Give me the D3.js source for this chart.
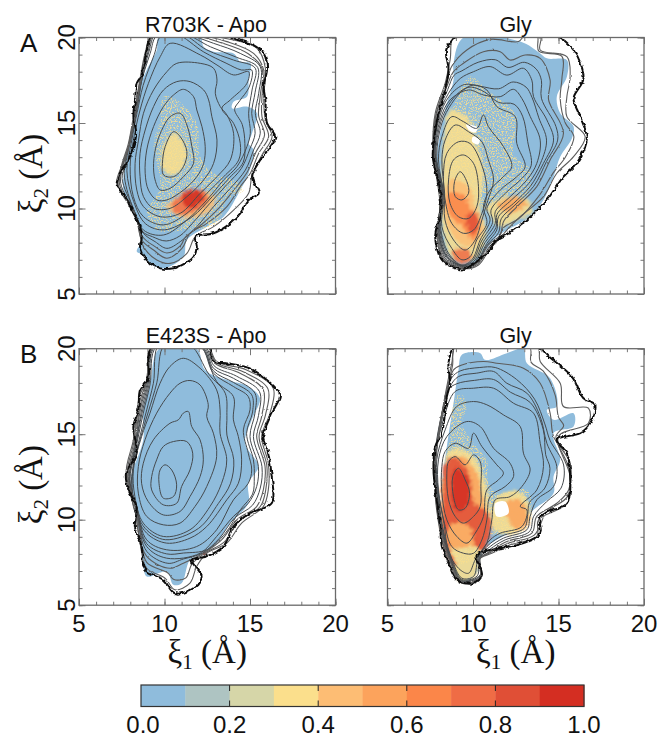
<!DOCTYPE html>
<html>
  <head>
    <meta charset="utf-8">
    <title>xi1 xi2 landscapes</title>
    <script src="https://d3js.org/d3.v7.min.js"></script>
    <style>
      body { margin: 0; background: white; }
      svg { display: block; }
      text { font-family: "Liberation Sans", Arial, sans-serif; fill: #111; }
      .axis-title { font-family: "Liberation Serif", serif; font-size: 33px; }
      .tick-label { font-size: 24px; }
      .panel-title { font-size: 21.5px; text-anchor: middle; }
      .panel-letter { font-size: 26px; }
      .frame { fill: none; stroke: #6a6a6a; stroke-width: 1.3px; }
      .axis path { display: none; }
      .axis line { stroke: #777; stroke-width: 1px; }
      .ring { fill: none; }
    </style>
  </head>
  <body>
    <svg></svg>
    <script>
      // colour bar
      var barColors = ["#8fbcdc", "#aec4c2", "#d6d6a8", "#fbdf8c", "#fdbd74", "#fca35c", "#fb8649", "#ef6c45", "#e04f36", "#d42e22"];
      var barTicks = [0.0, 0.2, 0.4, 0.6, 0.8, 1.0];
      var axisTicks = [5, 10, 15, 20];
      var minorTicks = d3.range(5, 21);

      // R703K - Apo (all in angstrom, rings go inner to outer)
      var r703kCovered = [[9.65,20],[12.09,20],[12.29,19.46],[12.87,19.17],[14.04,19.07],[14.43,18.59],[15.02,18.49],[14.92,17.51],[14.82,16.54],[14.04,16.25],[13.95,15.86],[14.82,15.96],[15.41,15.57],[15.12,14.4],[14.92,13.81],[15.21,13.42],[14.92,12.06],[14.43,11.08],[13.46,9.52],[12.48,8.94],[11.31,8.16],[11.11,7.18],[9.94,6.5],[9.16,6.79],[8.77,7.28],[8.38,7.48],[8.67,8.16],[8.38,9.52],[7.6,11.08],[7.7,12.45],[7.99,13.81],[8.38,15.37],[8.57,17.12],[8.96,18.1],[9.55,19.27]];
      var r703kSparse = [[9.94,16.54],[10.72,16.35],[11.89,14.98],[12.09,13.03],[12.87,12.06],[14.04,11.67],[14.63,11.08],[13.65,10.5],[13.07,9.13],[11.31,8.74],[9.55,8.74],[8.96,9.72],[9.75,11.28],[9.36,13.62],[9.75,15.37]];
      var r703kDense = [
        {value: 0.35, points: [[10.53,14.4],[11.21,13.62],[11.21,12.64],[10.53,11.96],[9.94,12.25],[9.94,13.62]]},
        {value: 0.45, points: [[10.14,10.11],[11.11,10.79],[12.87,10.79],[12.87,10.11],[12.09,9.52],[10.92,9.52]]},
        {value: 0.75, points: [[10.43,10.2],[11.31,10.98],[12.48,10.89],[12.48,10.3],[11.5,9.72],[10.72,9.72]]},
        {value: 0.95, points: [[11.2,10.98],[11.99,11.08],[12.29,10.6],[11.5,10.0],[11.11,10.3]]}
      ];
      var r703kHoles = [];
      var r703kRings = [
        [[10.53,14.49],[10.92,14.2],[11.31,13.32],[11.11,12.45],[10.53,11.86],[9.94,11.96],[9.88,12.64],[10.04,13.62]],
        [[10.92,15.57],[11.31,14.88],[11.6,13.62],[11.7,12.64],[11.11,11.86],[10.33,11.18],[9.75,11.08],[9.45,11.67],[9.36,12.64],[9.55,13.81],[9.94,14.79],[10.33,15.37]],
        [[11.11,16.97],[11.7,16.54],[11.89,15.76],[12.19,14.79],[12.38,13.62],[12.29,12.64],[11.89,11.86],[11.11,11.08],[10.14,10.5],[9.55,10.5],[9.06,11.08],[8.87,12.06],[8.96,13.42],[9.36,14.79],[9.94,15.96],[10.53,16.64]],
        [[11.5,17.42],[12.29,16.93],[12.58,16.35],[12.77,15.37],[13.07,14.0],[12.87,12.64],[12.29,11.67],[11.31,10.69],[10.33,10.01],[9.36,10.01],[8.77,10.69],[8.57,11.86],[8.57,13.23],[8.87,14.59],[9.36,15.96],[9.94,16.93],[10.72,17.42]],
        [[10.72,18.49],[12.09,18.49],[12.87,18.2],[13.07,17.51],[12.97,16.74],[13.26,15.96],[13.65,15.47],[14.04,14.4],[13.85,12.84],[13.07,11.86],[12.09,10.89],[10.92,9.72],[9.75,9.52],[8.77,10.11],[8.38,11.08],[8.28,12.64],[8.48,14.0],[8.77,15.57],[9.36,16.93],[10.14,18.0]],
        [[10.33,19.66],[12.09,18.98],[13.07,18.39],[14.04,17.81],[14.92,18.0],[14.82,17.32],[13.85,16.35],[13.36,15.86],[14.04,14.98],[14.43,13.81],[14.34,12.84],[13.46,11.86],[12.48,10.89],[11.31,9.72],[9.94,9.04],[8.77,9.52],[8.18,10.69],[7.99,12.45],[8.18,14.0],[8.57,15.76],[9.06,17.32],[9.75,18.88]],
        [[10.7,20.2],[12.3,19.15],[13.6,18.5],[14.5,18.1],[15.1,18.1],[14.95,17.1],[14.4,16.3],[14.1,15.8],[14.55,14.9],[14.7,13.8],[14.6,12.7],[13.8,11.8],[12.8,10.7],[11.6,9.5],[10,8.75],[8.9,9.1],[8.2,10.4],[7.8,12.2],[8.05,13.8],[8.4,15.6],[8.75,17.2],[9.4,19],[9.8,20.1]],
        [[11.02,20.2],[12.48,19.27],[14.04,18.68],[15.31,18.2],[15.12,16.93],[14.92,15.57],[15.02,14.4],[14.82,13.62],[14.24,12.45],[13.46,11.67],[12.48,10.5],[11.31,9.33],[9.94,8.45],[8.77,8.74],[8.09,10.2],[7.64,12.06],[7.89,13.62],[8.28,15.57],[8.57,17.12],[9.16,19.07],[9.55,20.1]],
        [[11.15,20.2],[12.7,19.45],[14.2,18.85],[15.45,18.25],[15.3,16.8],[15.1,15.57],[15.3,14.4],[15,13.5],[14.5,12.35],[13.65,11.4],[12.65,10.3],[11.6,9.1],[10.9,8.4],[10.1,8.1],[9.3,8.35],[8.72,8.65],[8.2,9.95],[7.52,11.75],[7.7,12.5],[7.96,13.8],[8.35,15.75],[8.62,17.3],[9.1,19.2],[9.47,20.15]],
        [[11.31,20.15],[12.87,19.66],[14.43,19.07],[15.6,18.29],[15.51,16.74],[15.31,15.57],[15.6,14.4],[15.21,13.42],[14.73,12.25],[13.85,11.18],[12.87,10.11],[11.89,8.94],[10.92,8.06],[10.14,7.67],[9.45,8.06],[8.77,8.55],[8.3,9.72],[7.44,11.47],[7.56,12.45],[8.03,14.0],[8.42,15.96],[8.67,17.51],[9.06,19.27],[9.39,20.15]],
        [[11.6,20.15],[13.3,19.7],[14.9,19.05],[15.7,18.2],[15.6,16.6],[15.5,15.45],[15.85,14.3],[15.35,13.3],[14.85,12.15],[14.15,11.2],[13.25,10.1],[12.15,9.05],[11.2,8.3],[10.95,7.85],[10.14,7.4],[9.4,7.8],[8.72,8.35],[8.3,9.62],[7.37,11.42],[7.53,12.5],[7.96,13.9],[8.35,15.96],[8.62,17.45],[9,19.27],[9.35,20.15]],
        [[11.89,20.15],[13.65,19.76],[15.21,19.07],[15.8,18.1],[15.7,16.54],[15.7,15.37],[16.09,14.2],[15.51,13.23],[15.02,12.06],[14.43,11.28],[13.65,10.11],[12.48,9.13],[11.5,8.55],[11.02,7.67],[10.14,7.09],[9.36,7.57],[8.67,8.16],[8.32,9.52],[7.3,11.37],[7.5,12.55],[7.89,13.81],[8.28,15.96],[8.57,17.42],[8.96,19.27],[9.32,20.15]],
        [[12.09,20.15],[14.04,19.85],[15.41,19.37],[15.9,18.2],[15.8,16.54],[15.9,15.18],[16.29,14.2],[15.7,13.13],[15.12,11.96],[14.92,10.89],[14.04,9.91],[12.87,8.94],[11.8,8.35],[11.31,7.38],[10.33,6.79],[9.55,6.99],[8.77,7.77],[8.38,9.33],[7.7,10.69],[7.21,11.47],[7.44,12.35],[7.83,13.23],[8.24,15.47],[8.54,17.42],[8.91,19.27],[9.26,20.15]],
        [[9.26,20.15],[8.96,19.27],[8.81,18.49],[8.67,17.81],[8.38,17.32],[8.28,16.35],[8.18,15.47],[8.34,14.4],[8.18,13.62],[7.79,12.64],[7.4,12.06],[7.21,11.37],[7.7,10.69],[8.09,9.91],[8.57,8.94],[8.67,8.35],[8.57,7.77],[8.67,7.38],[9.16,6.79],[9.75,6.5],[10.53,6.5],[11.21,6.79],[11.7,7.18],[11.89,7.77],[11.8,8.35],[12.87,8.55],[13.85,9.13],[14.43,9.72],[14.92,10.5],[15.51,10.89],[15.12,11.86],[15.6,12.84],[16.19,13.62],[16.48,14.2],[16.0,14.98],[15.9,16.35],[15.8,17.12],[16.0,18.2],[15.8,19.07],[15.2,19.56],[14.04,19.95],[13.65,20.15]]
      ];

      // R703K - Gly
      var r703kGlyCovered = [[9.44,20],[12.76,19.76],[13.93,19.07],[14.32,18.78],[15.49,18.68],[15.49,17.71],[14.9,16.54],[15.1,15.57],[15.88,14.79],[15.78,14.1],[15.1,13.03],[14.71,11.86],[14.12,10.5],[13.34,9.52],[11.98,8.74],[11.39,8.35],[10.61,7.38],[10.03,6.79],[9.44,6.7],[8.66,7.18],[8.18,8.16],[8.08,9.52],[8.08,10.69],[7.88,12.84],[8.08,14.4],[8.37,15.76],[8.86,17.51],[8.86,18.49]];
      var r703kGlySparse = [[9.83,17.71],[10.81,16.93],[12.56,15.37],[12.37,13.23],[13.34,12.25],[13.15,10.69],[12.37,10.89],[10.81,9.91],[10.03,10.5],[8.66,11.28],[8.47,14.4],[8.86,15.96]];
      var r703kGlyDense = [
        {value: 0.35, points: [[8.66,15.76],[9.64,15.37],[10.22,13.81],[10.61,12.06],[10.42,10.11],[10.81,8.55],[10.03,7.0],[8.86,7.0],[8.27,8.55],[8.18,12.45],[8.27,14.0]]},
        {value: 0.45, points: [[8.66,11.67],[9.74,11.28],[10.22,9.91],[10.61,8.74],[9.83,7.77],[8.86,8.35],[8.27,10.11]]},
        {value: 0.65, points: [[8.57,10.89],[9.44,10.79],[9.93,9.81],[10.42,9.33],[10.03,8.16],[9.35,8.94],[8.57,9.72]]},
        {value: 0.85, points: [[9.74,9.72],[10.22,9.72],[10.26,8.74],[9.93,8.55],[9.64,9.13]]},
        {value: 0.75, points: [[8.86,7.57],[9.74,7.57],[9.87,7.0],[9.44,6.75],[8.96,7.0]]},
        {value: 0.35, points: [[10.81,10.11],[11.98,10.69],[13.25,10.5],[13.44,9.72],[12.56,9.33],[11.59,8.94],[11,9.52]]},
        {value: 0.55, points: [[11.39,10.2],[12.47,10.69],[13.15,10.3],[12.17,9.72]]}
      ];
      var r703kGlyHoles = [
        [[9.6,14.9],[10.25,14.75],[10.15,14.45],[9.8,14.55]],
        [[10.0,14.2],[10.4,14.0],[10.3,13.75],[9.95,13.9]]
      ];
      var r703kGlyRings = [
        [[9.25,12.15],[9.64,11.57],[9.74,10.89],[9.35,10.5],[8.96,10.7],[8.92,11.57]],
        [[9.44,13.13],[10.03,12.64],[10.32,11.28],[10.22,10.1],[9.74,9.42],[9.15,9.52],[8.66,10.3],[8.57,11.67],[8.86,12.84]],
        [[9.15,13.9],[9.83,13.8],[10.61,12.25],[10.81,10.89],[10.52,9.72],[10.03,8.74],[9.44,8.55],[8.76,9.13],[8.37,10.5],[8.27,11.86],[8.47,13.23]],
        [[8.96,14.88],[9.74,14.49],[10.52,13.9],[10.9,12.84],[11.2,11.67],[10.81,10.3],[10.52,9.33],[10.13,8.16],[9.54,7.57],[8.86,8.16],[8.36,9.33],[8.34,10.89],[8.18,12.84],[8.37,14.0]],
        [[8.76,15.37],[9.44,15.08],[10.22,14.69],[10.61,15.47],[10.9,14.79],[11.78,13.62],[12.27,12.45],[11.78,11.86],[11.0,11.08],[10.61,10.11],[10.81,9.13],[10.22,8.16],[9.83,7.18],[9.35,7.0],[8.76,7.67],[8.18,8.94],[8.3,10.69],[7.98,12.84],[8.18,14.2]],
        [[10.03,17.22],[10.81,16.93],[11.39,15.96],[12.47,15.37],[12.56,13.81],[13.05,12.45],[12.56,11.86],[11.59,11.08],[10.81,10.0],[11,9.33],[10.42,8.16],[9.93,7.0],[9.35,6.7],[8.57,7.38],[8.1,8.94],[8.26,10.89],[7.88,13.03],[8.18,15.0],[8.76,16.15],[9.44,16.93]],
        [[9.9,17.1],[10.7,16.8],[11.5,16.2],[12.4,16.1],[12.9,15.4],[13.2,13.9],[13.4,12.5],[12.85,11.75],[11.9,10.9],[11.05,9.9],[11.15,9.2],[10.5,8.1],[9.98,6.95],[9.35,6.68],[8.52,7.33],[8.06,8.9],[8.23,10.9],[7.83,13.1],[8.13,15.1],[8.7,16.25],[9.4,16.95]],
        [[9.74,16.93],[10.61,16.64],[11.59,16.54],[12.37,16.97],[12.86,16.43],[13.35,15.37],[13.93,14.0],[13.73,12.64],[13.15,11.67],[12.17,10.69],[11.3,9.81],[11.3,9.13],[10.61,8.06],[10.03,6.89],[9.35,6.66],[8.47,7.28],[8.03,8.84],[8.2,10.89],[7.79,13.23],[8.08,15.18],[8.66,16.35]],
        [[9.5,17.25],[10.4,17.15],[11.5,17.0],[12.35,17.4],[13.1,17.1],[13.45,16.5],[13.85,15.3],[14.3,14],[13.95,12.65],[13.25,11.45],[12.25,10.5],[11.4,9.65],[11.35,8.9],[10.7,8.0],[10.08,6.84],[9.4,6.63],[8.42,7.24],[8,8.8],[8.17,10.8],[7.76,13.3],[8.03,15.3],[8.6,16.55]],
        [[9.25,17.6],[10.03,18.0],[11,18.3],[11.98,17.8],[12.95,18.2],[13.44,17.51],[13.54,16.54],[14.32,15.18],[14.71,14.0],[14.12,12.64],[13.34,11.28],[12.37,10.3],[11.49,9.52],[11.39,8.74],[10.81,7.96],[10.13,6.79],[9.44,6.6],[8.47,7.2],[7.97,8.74],[8.15,10.69],[7.75,13.42],[7.98,15.37],[8.57,16.74]],
        [[9.35,18.05],[10.3,18.55],[11.3,18.7],[12.05,18.25],[13,18.55],[13.7,18.15],[14,17.5],[14,16.45],[14.85,14.8],[14.95,14.0],[14.3,12.75],[13.55,11.3],[12.45,10.2],[11.65,9.4],[11.5,8.6],[10.85,7.9],[10.18,6.79],[9.44,6.57],[8.42,7.15],[7.95,8.74],[8.13,10.6],[7.72,13.42],[7.93,15.47],[8.52,16.95],[8.9,17.8]],
        [[9.44,18.49],[10.61,19.17],[11.59,19.17],[12.17,18.68],[13.05,18.98],[13.93,18.78],[14.51,17.51],[14.42,16.35],[15.29,14.4],[14.51,12.84],[13.73,11.28],[12.56,10.1],[11.78,9.23],[11.59,8.45],[10.9,7.87],[10.22,6.79],[9.44,6.54],[8.37,7.09],[7.93,8.74],[8.11,10.5],[7.7,13.42],[7.88,15.57],[8.47,17.13],[8.86,18.0]],
        [[9.64,19.27],[11,19.89],[12.66,19.76],[13.05,20.15],[13.75,20.15],[13.85,19.2],[15.2,18.9],[15.2,17.6],[15.1,16.4],[15.4,15],[15.9,14.2],[15.4,13],[14.7,12.1],[13.9,10.8],[12.66,9.4],[11.8,8.9],[11.5,8.3],[10.95,7.75],[10.27,6.75],[9.44,6.5],[8.3,7.05],[7.91,8.6],[8.09,10.3],[7.68,13.4],[7.83,15.5],[8.42,17.2],[8.75,18.3]],
        [[13.93,20.15],[13.93,19.27],[15.49,18.88],[15.68,17.71],[15.49,16.54],[15.49,15.37],[16.56,14.2],[15.88,13.03],[14.9,12.06],[14.12,10.69],[12.76,9.52],[11.98,8.74],[11.59,8.26],[11,7.67],[10.32,6.7],[9.44,6.48],[8.27,6.99],[7.88,8.55],[8.08,10.11],[7.66,13.42],[7.79,15.57],[8.37,17.32],[8.66,18.68],[8.96,20.15]],
        [[9.25,20.15],[14.71,20.15],[15.88,19.27],[16.46,17.61],[15.88,16.44],[16.27,15.37],[16.66,14.1],[16.07,12.64],[15.29,11.86],[14.32,10.5],[13.15,9.33],[12.08,8.55],[11.39,8.16],[10.81,7.38],[9.93,6.7],[9.44,6.44],[8.27,6.89],[7.79,8.35],[8.08,9.72],[8.08,11.08],[7.65,13.03],[7.92,15.27],[8.27,16.54],[8.57,18.1],[8.43,19.27],[8.96,20]]
      ];

      // E423S - Apo
      var e423sCovered = [[9.7,20],[11.88,20],[12.37,18.76],[13.64,18.18],[14.9,17.79],[15.58,17.1],[15.1,15.84],[14.71,14.47],[15.49,13.11],[14.9,12.13],[14.9,10.96],[13.83,9.8],[13.05,8.63],[12.27,8.04],[11.49,7.65],[11,6.29],[10.52,6.19],[10.13,6.97],[8.96,6.68],[8.76,7.65],[8.57,8.82],[8.27,10.77],[8.02,12.33],[8.76,14.67],[8.76,16.42],[9.15,17.88]];
      var e423sSparse = [];
      var e423sDense = [
        {value: 0.95, points: [[12.25,8.1],[12.4,8.1],[12.4,7.95],[12.25,7.95]]}
      ];
      var e423sHoles = [];
      var e423sRings = [
        [[10.03,13.21],[10.42,12.91],[10.71,12.04],[10.52,11.35],[9.93,11.26],[9.68,12.13],[9.74,12.91]],
        [[10.52,14.57],[11.3,14.57],[11.65,13.89],[11.49,12.91],[11,11.94],[10.71,10.96],[9.93,10.87],[9.25,11.74],[9.25,12.52],[9.54,13.5],[9.93,14.28]],
        [[11.1,16.23],[11.39,16.33],[11.59,15.45],[12.08,14.67],[12.27,13.5],[12.08,12.52],[11.49,11.35],[10.91,10.48],[9.93,10.28],[9.05,11.06],[8.66,12.13],[8.76,13.3],[9.35,14.67],[10.32,15.64],[10.81,15.84]],
        [[11.49,18.14],[12.08,17.88],[12.56,16.72],[12.47,16.03],[12.86,15.06],[13.05,13.69],[12.47,11.94],[11.78,10.77],[10.91,9.8],[9.93,9.7],[8.96,10.19],[8.47,11.55],[8.47,13.11],[8.86,14.67],[9.54,16.23],[10.32,17.4],[10.91,17.98]],
        [[11.1,19.44],[12.08,18.86],[13.05,17.59],[13.25,16.42],[13.25,15.06],[13.64,13.5],[13.34,12.13],[12.66,10.77],[11.49,9.41],[9.93,9.02],[8.76,9.8],[8.27,11.35],[8.18,12.91],[8.66,14.86],[9.15,16.23],[9.74,17.98],[10.32,18.96]],
        [[11.5,20.2],[12.6,18.5],[13.55,17.4],[13.65,16.1],[13.65,14.95],[14.05,13.5],[13.85,12.1],[13.15,10.95],[12,9.5],[10.05,8.83],[8.86,9.5],[8.22,11.05],[8.13,12.7],[8.56,14.65],[9.05,16.3],[9.55,18],[10,20.2]],
        [[12,20.3],[13.05,18.08],[14.03,17.2],[14.03,15.84],[14.32,14.86],[14.51,13.5],[14.32,12.13],[13.64,11.16],[12.47,9.6],[11.49,8.92],[10.13,8.63],[8.96,9.21],[8.18,10.77],[8.08,12.52],[8.47,14.47],[8.96,16.42],[9.35,17.98],[9.72,20.3]],
        [[12.08,20.13],[12.86,18.57],[14.03,17.79],[14.9,17.2],[15,16.42],[14.61,15.25],[14.9,13.89],[15.1,12.91],[14.9,12.13],[14.03,11.16],[13.05,9.41],[11.88,8.43],[10.13,8.24],[8.96,8.82],[8.42,10.58],[7.98,12.33],[8.27,13.89],[8.76,16.23],[9.15,17.88],[9.54,20.13]],
        [[12.18,20.13],[12.86,18.7],[14.03,18.03],[15.1,17.3],[15.15,16.3],[14.8,15.05],[15.2,13.5],[15.25,12.5],[15.15,11.5],[14.45,10.6],[13.55,9.2],[12.5,8.25],[11.1,8.05],[10.13,8.0],[8.96,8.6],[8.42,10.45],[7.96,12.4],[8.25,14],[8.7,16.3],[9.1,17.93],[9.45,20.13]],
        [[12.27,20.13],[12.86,18.86],[14.03,18.27],[15.29,17.4],[15.29,16.23],[15,14.86],[15.49,13.11],[15.39,11.94],[14.9,10.96],[14.03,10.19],[13.05,9.02],[12.08,8.04],[10.13,7.75],[8.96,8.43],[8.4,10.38],[7.93,12.52],[8.27,14.08],[8.66,16.42],[9.05,17.98],[9.39,20.13]],
        [[12.35,20.13],[12.9,19],[14.2,18.4],[15.55,17.5],[15.5,16.1],[15.2,14.86],[15.7,13.1],[15.6,11.85],[15.15,10.85],[14.1,10.1],[13.2,8.9],[12.2,8.04],[11.1,7.7],[10.2,7.45],[8.96,8.15],[8.45,10],[8.37,10.7],[7.88,12.52],[8.25,14.2],[8.6,16.5],[9,18],[9.35,20.13]],
        [[12.43,20.13],[12.95,19.15],[14.42,18.57],[15.78,17.59],[15.68,16.03],[15.39,14.86],[15.88,13.11],[15.78,11.74],[15.39,10.77],[14.22,9.99],[13.34,8.82],[12.27,8.04],[11.1,7.46],[10.32,7.16],[8.96,7.85],[8.42,9.6],[8.35,10.77],[7.85,12.52],[8.22,14.28],[8.57,16.62],[8.96,18.08],[9.31,20.13]],
        [[12.46,20.13],[13,19.2],[14.6,18.65],[16.05,17.65],[15.9,16.1],[15.53,14.86],[15.98,13.2],[15.92,11.74],[15.6,10.77],[14.35,9.9],[13.5,8.7],[12.36,8.04],[11.6,7.4],[11.25,6.6],[10.55,6.5],[10.18,6.9],[8.96,7.5],[8.6,9.1],[8.33,10.6],[7.8,12.6],[8.2,14.5],[8.55,16.9],[8.96,18.13],[9.29,20.13]],
        [[12.5,20.13],[13.05,19.25],[14.8,18.76],[16.36,17.69],[16.17,16.23],[15.68,14.86],[16.07,13.3],[16.07,11.74],[15.78,10.77],[14.51,9.8],[13.64,8.63],[12.47,8.04],[11.88,7.26],[11.49,6.29],[10.61,5.9],[10.03,6.58],[8.96,7.16],[8.57,8.63],[8.3,10.38],[7.75,12.72],[8.18,14.67],[8.53,17.2],[8.96,18.18],[9.27,20.13]],
        [[9.25,20.13],[9.05,18.27],[8.57,17.59],[8.47,16.42],[8.18,15.45],[8.37,13.89],[7.75,12.72],[7.89,11.74],[8.37,10.77],[8.27,9.6],[8.66,8.43],[8.86,7.07],[9.93,6.48],[10.61,5.7],[11.69,5.99],[12.17,6.68],[11.59,7.65],[12.47,7.85],[13.44,8.43],[14.03,9.6],[15,10.38],[16.27,10.96],[16.27,12.52],[16.07,13.89],[15.78,14.86],[16.27,16.23],[16.75,17.3],[15.97,18.18],[14.96,18.86],[13.64,19.15],[12.86,19.25],[12.56,20.13]]
      ];

      // E423S - Gly
      var e423sGlyCovered = [[9.35,19.64],[10.42,19.74],[10.71,19.35],[11.98,19.74],[12.95,20],[13.15,19.15],[14.51,18.27],[14.9,16.62],[14.32,16.42],[14.71,15.84],[15.88,16.23],[15.88,15.45],[14.71,15.06],[15.1,13.5],[14.71,12.52],[14.71,11.55],[13.54,10.58],[12.37,9.41],[10.61,8.24],[10.22,6.87],[9.44,6.38],[8.76,7.26],[8.27,8.82],[8.18,11.94],[8.47,14.28],[8.86,16.81],[9.15,18.76]];
      var e423sGlySparse = [[9.25,17.4],[9.64,16.62],[9.35,15.64],[10.03,14.47],[10.81,13.5],[10.9,12.13],[11.39,11.55],[13.15,11.74],[13.44,10.58],[13.25,9.6],[12.56,9.21],[10.81,9.02],[10.52,8.24],[10.03,7.65],[8.86,7.46],[8.47,8.43],[8.27,12.72],[8.66,14.86],[8.86,16.81]];
      var e423sGlyDense = [
        {value: 0.35, points: [[8.66,14.08],[9.83,13.89],[10.61,12.52],[11,9.99],[10.42,8.04],[10.13,6.68],[9.25,6.38],[8.76,7.26],[8.47,9.02],[8.27,11.94]]},
        {value: 0.38, points: [[11.39,11.35],[12.86,11.55],[13.34,9.99],[12.56,9.21],[11.2,9.41]]},
        {value: 0.55, points: [[11.98,11.06],[12.76,11.16],[13.25,9.8],[12.56,9.41],[11.98,10.19]]},
        {value: 0.55, points: [[8.47,13.3],[9.44,13.69],[10.22,12.72],[10.61,11.16],[10.9,9.99],[10.52,8.24],[10.03,8.43],[8.47,8.43]]},
        {value: 0.85, points: [[8.37,13.3],[8.96,13.69],[9.83,12.52],[9.99,11.16],[10.9,10.38],[11.1,9.8],[10.61,8.24],[10.13,8.43],[9.83,9.6],[8.96,9.8],[8.47,9.41],[8.66,8.24],[9.05,7.26],[8.47,7.85],[8.27,9.21],[8.27,11.94]]},
        {value: 0.95, points: [[8.96,13.01],[9.64,12.52],[9.83,11.35],[9.44,10.58],[8.96,10.58],[8.76,11.94]]}
      ];
      var e423sGlyHoles = [
        [[11.3,10.96],[11.88,11.06],[12.08,10.38],[11.39,10.19]]
      ];
      var e423sGlyRings = [
        [[9.15,13.01],[9.54,12.33],[9.8,11.55],[9.54,10.67],[9.15,10.58],[8.86,11.35],[8.82,12.52]],
        [[8.96,13.69],[9.54,13.21],[10.03,13.79],[10.42,13.4],[10.46,11.94],[10.42,10.77],[10.03,10.19],[9.44,9.8],[8.96,10.19],[8.57,11.16],[8.47,12.72],[8.57,13.4]],
        [[8.96,14.47],[9.74,14.18],[10.03,15.06],[10.52,14.28],[11.39,13.21],[11.78,12.72],[11.49,12.33],[10.81,11.74],[10.61,10.19],[10.13,9.21],[9.64,8.63],[9.05,9.02],[8.47,9.99],[8.18,11.55],[8.18,13.11],[8.37,13.99]],
        [[9.64,15.74],[10.42,15.45],[11.2,14.18],[12.17,13.3],[12.37,12.52],[11.88,11.94],[11,11.35],[10.81,9.99],[10.52,8.82],[10.03,8.04],[9.44,8.04],[8.76,8.43],[8.33,9.8],[7.98,11.74],[7.98,13.5],[8.47,14.86]],
        [[9.05,16.62],[10.03,16.91],[10.81,16.72],[11.78,16.13],[12.76,15.45],[12.95,13.89],[13.34,12.91],[12.86,11.94],[12.17,11.35],[11.3,11.16],[11.1,9.99],[10.81,8.63],[10.13,7.65],[9.74,6.87],[9.25,7.07],[8.6,8.04],[8.3,9.8],[7.96,11.74],[7.88,13.5],[8.37,15.25]],
        [[8.96,17.5],[10.03,17.69],[11.2,17.69],[12.37,16.81],[13.54,16.23],[13.93,14.47],[14.12,13.11],[13.73,11.74],[12.76,10.77],[13.15,10.58],[12.86,9.6],[11.59,9.21],[11,8.82],[10.32,7.85],[10.03,6.68],[9.35,6.58],[8.75,7.75],[8.22,9.6],[7.95,11.74],[7.79,13.5],[8.27,15.84]],
        [[9.05,17.95],[10.1,18.15],[11.2,18.2],[12.2,17.45],[13.35,16.85],[14.1,15.3],[14.25,13.8],[14.5,13],[14.2,11.85],[13.3,11],[13.2,10.3],[13,9.5],[11.7,9.05],[11,8.6],[10.37,7.85],[10.25,6.72],[9.35,6.5],[8.72,7.7],[8.18,9.6],[7.9,11.85],[7.77,13.5],[8.22,16],[8.55,17.6]],
        [[9.15,18.37],[10.22,18.57],[11.2,18.67],[11.98,17.98],[13.15,17.4],[13.93,16.03],[14.32,14.47],[14.9,13.11],[14.71,11.94],[13.73,11.16],[13.34,10.19],[13.15,9.41],[11.78,8.92],[11,8.43],[10.42,7.85],[10.42,6.77],[9.35,6.44],[8.7,7.65],[8.16,9.6],[7.86,11.94],[7.75,13.5],[8.18,16.23],[8.66,17.79]],
        [[9.25,18.7],[10.4,18.9],[11.3,18.9],[12.55,18.2],[13.6,17.05],[14.2,15.6],[14.5,14.65],[15.3,13.2],[15.15,11.85],[14.3,11.05],[13.55,10.2],[13.3,9.3],[11.88,8.82],[11,8.28],[10.42,7.8],[10.42,6.72],[9.35,6.4],[8.68,7.6],[8.14,9.5],[7.82,12.15],[7.85,14.2],[8.32,16.8],[8.76,18.3]],
        [[9.35,19.05],[10.61,19.25],[11.39,19.15],[12.95,18.86],[13.93,17.98],[14.51,16.23],[14.71,14.86],[15.68,13.3],[15.59,11.74],[14.9,10.96],[13.73,10.19],[13.44,9.21],[11.98,8.72],[11,8.14],[10.42,7.75],[10.42,6.68],[9.35,6.35],[8.66,7.55],[8.12,9.41],[7.78,12.33],[7.98,14.86],[8.47,17.4],[8.86,18.76]],
        [[13.3,20.13],[13.4,19.2],[14.1,18.7],[14.8,17.3],[15,16.0],[15.3,15.5],[14.85,14.85],[15.65,12.9],[15.52,11.35],[14.3,10.45],[13.58,9.1],[12.05,8.62],[11.05,8.1],[10.37,7.7],[10.44,6.63],[9.35,6.32],[8.62,7.45],[8.1,9.3],[7.76,12.4],[7.97,14.9],[8.45,17.5],[8.8,19],[8.98,20.13]],
        [[13.77,20.13],[13.93,19.25],[15.1,17.98],[15.29,16.62],[16.75,16.52],[16.75,15.64],[15,14.86],[15.68,12.52],[15.49,10.96],[13.83,9.99],[13.73,9.02],[12.17,8.53],[11.1,8.04],[10.32,7.65],[10.46,6.58],[9.35,6.29],[8.58,7.4],[8.09,9.21],[7.74,12.52],[7.98,14.96],[8.43,17.59],[8.76,19.15],[9.02,20.13]],
        [[8.96,20.13],[8.57,19.15],[8.66,17.98],[8.47,17.2],[8.18,15.06],[7.79,14.28],[7.69,12.91],[7.88,11.16],[8.08,9.6],[8.18,8.43],[8.57,7.46],[9.05,6.48],[10.03,6.29],[10.52,6.77],[10.22,7.94],[11.59,8.33],[12.95,8.63],[13.93,9.21],[13.93,10.19],[15.49,10.96],[15.68,12.52],[15.49,13.89],[14.9,14.67],[16.27,15.06],[16.85,15.64],[17.14,16.72],[16.46,17.1],[15.78,18.37],[14.32,19.64],[13.83,20.13]]
      ];

      var panels = [
        {id: "p1", title: "R703K - Apo", letter: "A", left: 79, top: 37.5, covered: r703kCovered, sparse: r703kSparse, dense: r703kDense, holes: r703kHoles, rings: r703kRings},
        {id: "p2", title: "Gly", left: 387.5, top: 37.5, covered: r703kGlyCovered, sparse: r703kGlySparse, dense: r703kGlyDense, holes: r703kGlyHoles, rings: r703kGlyRings},
        {id: "p3", title: "E423S - Apo", letter: "B", left: 79, top: 348.7, covered: e423sCovered, sparse: e423sSparse, dense: e423sDense, holes: e423sHoles, rings: e423sRings},
        {id: "p4", title: "Gly", left: 387.5, top: 348.7, covered: e423sGlyCovered, sparse: e423sGlySparse, dense: e423sGlyDense, holes: e423sGlyHoles, rings: e423sGlyRings}
      ];

      var svgWidth = 665,
          svgHeight = 738,
          panelSize = 256.5,
          barLeft = 141,
          barRight = 584,
          barTop = 685,
          barBottom = 706.5;

      var svg = d3.select("svg").attr("width", svgWidth).attr("height", svgHeight);
      var defs = svg.append("defs");

      // soft look of the printed figure
      defs.append("filter").attr("id", "soft").append("feGaussianBlur").attr("stdDeviation", 0.7);
      defs.append("filter").attr("id", "softLine").append("feGaussianBlur").attr("stdDeviation", 0.25);

      // grainy edge between density bins
      var grain = defs.append("filter").attr("id", "grain")
        .attr("x", "-10%").attr("y", "-10%").attr("width", "120%").attr("height", "120%");
      grain.append("feTurbulence").attr("type", "fractalNoise")
        .attr("baseFrequency", 0.45).attr("numOctaves", 2).attr("seed", 11).attr("result", "n");
      grain.append("feDisplacementMap").attr("in", "SourceGraphic").attr("in2", "n")
        .attr("scale", 9).attr("xChannelSelector", "R").attr("yChannelSelector", "G").attr("result", "d");
      grain.append("feGaussianBlur").attr("in", "d").attr("stdDeviation", 0.8);

      // stipple for sparsely populated bins
      var stipple = defs.append("filter").attr("id", "stipple")
        .attr("color-interpolation-filters", "sRGB");
      stipple.append("feTurbulence").attr("type", "fractalNoise")
        .attr("baseFrequency", 0.8).attr("numOctaves", 2).attr("seed", 7).attr("result", "noise");
      stipple.append("feColorMatrix").attr("in", "noise").attr("type", "matrix")
        .attr("values", "0 0 0 0 0  0 0 0 0 0  0 0 0 0 0  7 0 0 0 -3.4").attr("result", "dots");
      stipple.append("feComposite").attr("in", "SourceGraphic").attr("in2", "dots").attr("operator", "in").attr("result", "cut");
      stipple.append("feGaussianBlur").attr("in", "cut").attr("stdDeviation", 0.5);

      // rough edge of the low count contours
      [["rough1", 2], ["rough2", 4]].forEach(function(r) {
        var f = defs.append("filter").attr("id", r[0])
          .attr("x", "-10%").attr("y", "-10%").attr("width", "120%").attr("height", "120%");
        f.append("feTurbulence").attr("type", "fractalNoise")
          .attr("baseFrequency", 0.22).attr("numOctaves", 2).attr("seed", 3).attr("result", "n");
        f.append("feDisplacementMap").attr("in", "SourceGraphic").attr("in2", "n")
          .attr("scale", r[1]).attr("xChannelSelector", "R").attr("yChannelSelector", "G").attr("result", "d");
        f.append("feGaussianBlur").attr("in", "d").attr("stdDeviation", 0.2);
      });

      var color = d3.scaleQuantize().domain([0, 1]).range(barColors);

      panels.forEach(function(p, i) {
        var x = d3.scaleLinear().domain([5, 20]).range([0, panelSize]);
        var y = d3.scaleLinear().domain([5, 20]).range([panelSize, 0]);
        var g = svg.append("g").attr("transform", "translate(" + [p.left, p.top] + ")");

        defs.append("clipPath").attr("id", "clip-" + p.id)
          .append("rect").attr("width", panelSize).attr("height", panelSize);

        var ring = d3.line().x(function(d) { return x(d[0]); }).y(function(d) { return y(d[1]); })
          .curve(d3.curveCatmullRomClosed.alpha(0.5));

        var body = g.append("g").attr("clip-path", "url(#clip-" + p.id + ")");
        var fills = body.append("g").attr("filter", "url(#soft)");

        fills.append("path").attr("d", ring(p.covered)).attr("fill", color(0.05));
        if (p.sparse.length) {
          body.append("path").attr("d", ring(p.sparse)).attr("fill", color(0.35))
            .attr("fill-opacity", 0.8).attr("filter", "url(#stipple)");
        }
        var denseG = body.append("g").attr("filter", p.dense.length > 1 ? "url(#grain)" : "url(#soft)");
        denseG.selectAll("path").data(p.dense).enter().append("path")
          .attr("d", function(d) { return ring(d.points); })
          .attr("fill", function(d) { return color(d.value); })
          .attr("fill-opacity", 0.85);
        var holeG = body.append("g").attr("filter", "url(#soft)");
        p.holes.forEach(function(h) {
          holeG.append("path").attr("d", ring(h)).attr("fill", "white");
        });

        var n = p.rings.length;
        var inner = body.append("g").attr("filter", "url(#softLine)");
        p.rings.forEach(function(r, k) {
          var fromOuter = n - 1 - k;
          var target = fromOuter > 3 ? inner
            : body.append("g").attr("filter", fromOuter == 0 ? "url(#rough2)" : "url(#rough1)");
          target.append("path").attr("class", "ring").attr("d", ring(r))
            .attr("stroke", fromOuter == 0 ? "#111" : fromOuter < 4 ? "#5c5c5c" : "#454a4e")
            .attr("stroke-width", fromOuter == 0 ? 2 : fromOuter < 4 ? 1.1 : 1);
        });

        // ticks on all four sides
        [[d3.axisBottom(x), [0, panelSize], -1], [d3.axisTop(x), [0, 0], -1],
         [d3.axisLeft(y), [0, 0], -1], [d3.axisRight(y), [panelSize, 0], -1]].forEach(function(a) {
          [[minorTicks, 3.5], [axisTicks, 6.5]].forEach(function(t) {
            g.append("g").attr("class", "axis")
              .attr("transform", "translate(" + a[1] + ")")
              .call(a[0].tickValues(t[0]).tickSize(a[2] * t[1]).tickFormat(""));
          });
        });
        g.append("rect").attr("class", "frame").attr("width", panelSize).attr("height", panelSize);

        // left column carries y labels, bottom row carries x labels
        if (i % 2 == 0) {
          axisTicks.forEach(function(t) {
            g.append("text").attr("class", "tick-label")
              .attr("transform", "translate(" + [-4.5, y(t)] + ") rotate(-90)")
              .attr("text-anchor", "middle").text(t);
          });
          var yl = g.append("text").attr("class", "axis-title")
            .attr("transform", "translate(" + [-37, 136] + ") rotate(-90)")
            .attr("text-anchor", "middle");
          yl.append("tspan").text("ξ");
          yl.append("tspan").attr("dy", 6).attr("font-size", 21).text("2");
          yl.append("tspan").attr("dy", -6).text(" (Å)");
        }
        if (i >= 2) {
          axisTicks.forEach(function(t) {
            g.append("text").attr("class", "tick-label")
              .attr("x", x(t)).attr("y", panelSize + 27)
              .attr("text-anchor", "middle").text(t);
          });
          var xl = g.append("text").attr("class", "axis-title")
            .attr("x", panelSize / 2).attr("y", panelSize + 58)
            .attr("text-anchor", "middle");
          xl.append("tspan").text("ξ");
          xl.append("tspan").attr("dy", 6).attr("font-size", 21).text("1");
          xl.append("tspan").attr("dy", -6).text(" (Å)");
        }

        g.append("text").attr("class", "panel-title")
          .attr("x", p.letter ? 127 : 128).attr("y", -5.5).text(p.title);
        if (p.letter) {
          g.append("text").attr("class", "panel-letter")
            .attr("x", -59).attr("y", 14.5).text(p.letter);
        }
      });

      // colour bar
      var barScale = d3.scaleLinear().domain([0, 1]).range([barLeft, barRight]);
      var bins = d3.range(barColors.length);
      var barG = svg.append("g");
      barG.selectAll("rect.bin").data(bins).enter().append("rect")
        .attr("class", "bin")
        .attr("x", function(d) { return barScale(d / bins.length); })
        .attr("width", (barRight - barLeft) / bins.length + 0.4)
        .attr("y", barTop).attr("height", barBottom - barTop)
        .attr("fill", function(d) { return barColors[d]; });
      barTicks.slice(1, -1).forEach(function(t) {
        barG.append("line").attr("x1", barScale(t)).attr("x2", barScale(t))
          .attr("y1", barTop).attr("y2", barTop + 6).attr("stroke", "#222");
        barG.append("line").attr("x1", barScale(t)).attr("x2", barScale(t))
          .attr("y1", barBottom - 6).attr("y2", barBottom).attr("stroke", "#222");
      });
      barG.append("rect").attr("x", barLeft).attr("y", barTop)
        .attr("width", barRight - barLeft).attr("height", barBottom - barTop)
        .attr("fill", "none").attr("stroke", "#333").attr("stroke-width", 1.2);
      barTicks.forEach(function(t) {
        barG.append("text").attr("class", "tick-label")
          .attr("x", barScale(t) + (t == 0 ? 2 : 0)).attr("y", 732.5)
          .attr("text-anchor", "middle").text(d3.format(".1f")(t));
      });
    </script>
  </body>
</html>
